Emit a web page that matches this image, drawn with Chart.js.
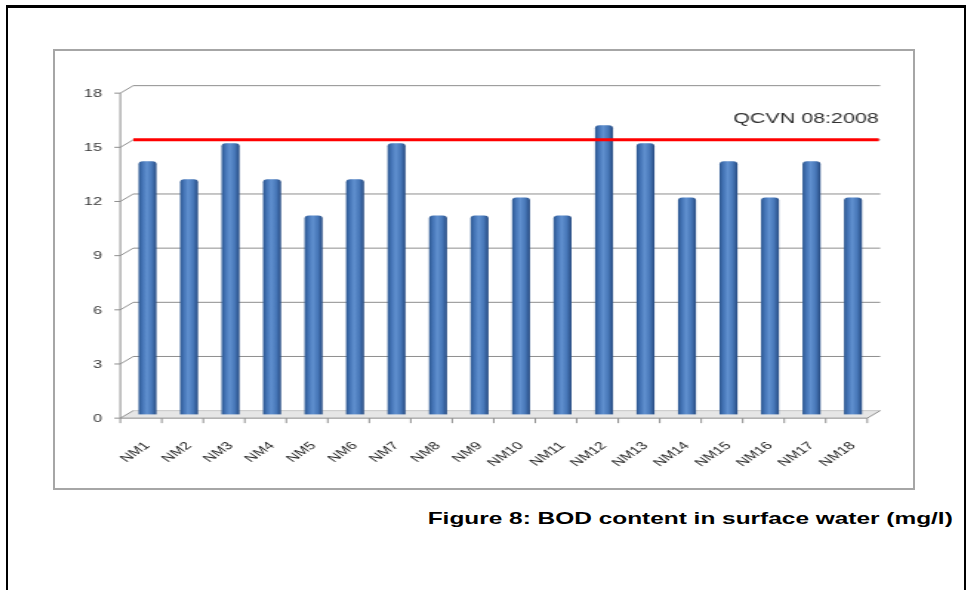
<!DOCTYPE html>
<html>
<head>
<meta charset="utf-8">
<script src="https://cdn.jsdelivr.net/npm/chart.js@4.4.1/dist/chart.umd.min.js"></script>
<style>
  html, body { margin: 0; padding: 0; background: #ffffff; }
  body { width: 970px; height: 590px; position: relative; overflow: hidden; font-family: "Liberation Sans", Arial, sans-serif; }
  .rule-top { position: absolute; left: 6px; top: 5px; width: 960px; height: 3px; background: #000; }
  .rule-left { position: absolute; left: 6px; top: 5px; width: 2px; height: 585px; background: #000; }
  .rule-right { position: absolute; left: 964px; top: 5px; width: 2px; height: 585px; background: #000; }
  .chart-box { position: absolute; left: 53px; top: 49px; width: 858px; height: 437px; border: 2px solid #a6a6a6; background: #fff; overflow: hidden; }
  .chart-wrap { position: absolute; left: 0; top: 0; width: 580px; height: 437px; transform: scaleX(1.48); transform-origin: 0 0; filter: blur(0.35px); }
  .caption { position: absolute; right: 17px; top: 507px; font-weight: bold; font-size: 16.5px; line-height: 22px; color: #000; white-space: nowrap; transform: scaleX(1.48); transform-origin: 100% 50%; }
</style>
</head>
<body>
<div class="rule-top"></div>
<div class="rule-left"></div>
<div class="rule-right"></div>
<div class="chart-box"><div class="chart-wrap"><canvas id="bod"></canvas></div></div>
<div class="caption">Figure 8: BOD content in surface water (mg/l)</div>
<script>
// Sampling stations and BOD5 readings (mg/l)
const stations = ['NM1','NM2','NM3','NM4','NM5','NM6','NM7','NM8','NM9','NM10','NM11','NM12','NM13','NM14','NM15','NM16','NM17','NM18'];
const bodValues = [14, 13, 15, 13, 11, 13, 15, 11, 11, 12, 11, 16, 15, 12, 14, 12, 14, 12];
const yTickValues = [0, 3, 6, 9, 12, 15, 18];
const qcvnLimit = 15;
const qcvnLabel = 'QCVN 08:2008';

// pseudo-3D depth of the plot box (canvas px)
const DEPTH_X = 8.8;
const DEPTH_Y = 7.5;
const BAR_W = 11.5;

function barFill(c) {
  const base = '#4f81bd';
  if (c.type !== 'data') return base;
  const xs = c.chart.scales.x;
  if (!xs) return base;
  const cx = xs.getPixelForValue(c.dataIndex);
  if (!isFinite(cx)) return base;
  const g = c.chart.ctx.createLinearGradient(cx - BAR_W / 2, 0, cx + BAR_W / 2, 0);
  g.addColorStop(0, '#2f5a94');
  g.addColorStop(0.2, '#4474b6');
  g.addColorStop(0.45, '#6090cf');
  g.addColorStop(0.75, '#4777b8');
  g.addColorStop(1, '#2a4f86');
  return g;
}

const depthFrame = {
  id: 'depthFrame',
  beforeDatasetsDraw(chart) {
    const { ctx, chartArea: { left, right }, scales: { y } } = chart;
    const hx = DEPTH_X / 2, hy = DEPTH_Y / 2;
    const fl = left - hx, fr = right - hx, bl = left + hx, br = right + hx;
    const fy = v => y.getPixelForValue(v) + hy;
    const by = v => y.getPixelForValue(v) - hy;
    ctx.save();
    // floor
    ctx.fillStyle = '#e6e6e6';
    ctx.beginPath();
    ctx.moveTo(fl, fy(0)); ctx.lineTo(fr, fy(0)); ctx.lineTo(br, by(0)); ctx.lineTo(bl, by(0));
    ctx.closePath(); ctx.fill();
    ctx.lineWidth = 1;
    // back-wall gridlines with depth connectors and front ticks
    y.ticks.forEach(t => {
      const v = t.value;
      ctx.strokeStyle = v === 0 ? '#c8c8c8' : '#8e8e8e';
      ctx.beginPath(); ctx.moveTo(bl, by(v)); ctx.lineTo(br, by(v)); ctx.stroke();
      ctx.strokeStyle = '#8e8e8e';
      ctx.beginPath(); ctx.moveTo(fl, fy(v)); ctx.lineTo(bl, by(v)); ctx.stroke();
      ctx.beginPath(); ctx.moveTo(fl - 4, fy(v)); ctx.lineTo(fl, fy(v)); ctx.stroke();
    });
    // front value axis
    ctx.strokeStyle = '#8e8e8e';
    ctx.beginPath(); ctx.moveTo(fl, fy(y.max)); ctx.lineTo(fl, fy(0)); ctx.stroke();
    // front category axis and right floor edge
    ctx.beginPath(); ctx.moveTo(fl, fy(0)); ctx.lineTo(fr, fy(0)); ctx.lineTo(br, by(0)); ctx.stroke();
    const n = stations.length;
    for (let k = 0; k <= n; k++) {
      const xk = fl + k * (fr - fl) / n;
      ctx.beginPath(); ctx.moveTo(xk, fy(0)); ctx.lineTo(xk, fy(0) + 5); ctx.stroke();
    }
    ctx.restore();
  },
  afterDatasetsDraw(chart) {
    const { ctx, chartArea: { left, right }, scales: { y } } = chart;
    const hx = DEPTH_X / 2, hy = DEPTH_Y / 2;
    const yl = y.getPixelForValue(qcvnLimit) - hy;
    ctx.save();
    ctx.strokeStyle = '#ff0000';
    ctx.lineWidth = 3;
    ctx.beginPath(); ctx.moveTo(left + hx, yl); ctx.lineTo(right + hx - 1, yl); ctx.stroke();
    ctx.fillStyle = '#333333';
    ctx.font = '14.5px "Liberation Sans", Arial, sans-serif';
    ctx.textAlign = 'right';
    ctx.textBaseline = 'middle';
    ctx.fillText(qcvnLabel, right + hx - 1, yl - 21);
    ctx.restore();
  }
};

new Chart(document.getElementById('bod'), {
  type: 'bar',
  data: {
    labels: stations,
    datasets: [{
      label: 'BOD',
      data: bodValues,
      backgroundColor: barFill,
      borderWidth: 0,
      borderRadius: { topLeft: 3, topRight: 3 },
      borderSkipped: 'bottom',
      barThickness: BAR_W
    }]
  },
  options: {
    responsive: true,
    maintainAspectRatio: false,
    animation: false,
    events: [],
    layout: { padding: { top: 38.4, right: 26.8, left: 0, bottom: 0 } },
    plugins: { legend: { display: false }, tooltip: { enabled: false } },
    scales: {
      x: {
        grid: { display: false, drawTicks: false },
        border: { display: false },
        ticks: {
          autoSkip: false, maxRotation: 45, minRotation: 45, padding: 25,
          color: '#1c1c1c', font: { family: '"Liberation Sans", Arial, sans-serif', size: 11 }
        },
        afterFit(s) { s.height = 437 - 363.4; }
      },
      y: {
        min: 0, max: 18,
        grid: { display: false, drawTicks: false },
        border: { display: false },
        afterBuildTicks(s) { s.ticks = yTickValues.map(v => ({ value: v })); },
        ticks: {
          padding: 16.7, labelOffset: 4.5,
          color: '#3a3a3a', font: { family: '"Liberation Sans", Arial, sans-serif', size: 11 }
        },
        afterFit(s) { s.width = 48.5; }
      }
    }
  },
  plugins: [depthFrame]
});
</script>
</body>
</html>
